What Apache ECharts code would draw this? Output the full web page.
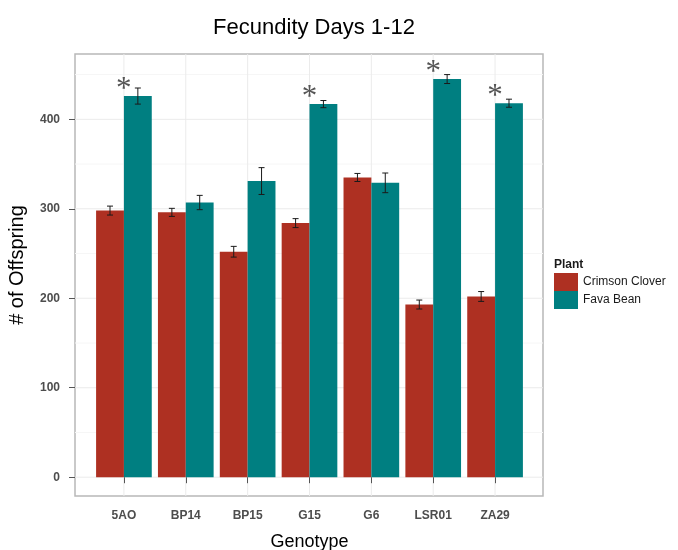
<!DOCTYPE html>
<html><head><meta charset="utf-8">
<script src="https://cdn.jsdelivr.net/npm/echarts@6/dist/echarts.min.js"></script>
<style>html,body{margin:0;padding:0;background:#fff}#c{width:678px;height:550px}</style>
</head><body><div id="c"></div>
<script>
// ---- data ----
const categories = ['5AO', 'BP14', 'BP15', 'G15', 'G6', 'LSR01', 'ZA29'];
const seriesNames = ['Crimson Clover', 'Fava Bean'];
const cloverMean = [298, 296, 252, 284, 335, 193, 202];
const cloverErr = [5, 4.5, 6, 5, 4.5, 5, 5.5];
const favaMean = [426, 307, 331, 417, 329, 445, 418];
const favaErr = [9, 8, 15, 4, 11, 5, 4.5];
const significant = [true, false, false, true, false, true, true];
const yTicks = [0, 100, 200, 300, 400];
const yMinorTicks = [50, 150, 250, 350, 450];
const yRange = [-21, 473];

// ---- style ----
const RED = '#AE3022', TEAL = '#007F81';
const BAR_FRAC = 0.45;
const FONT = 'Liberation Sans';

function hLine(color) {
  return function (params, api) {
    const cs = params.coordSys;
    const y = api.coord([0.5, api.value(1)])[1];
    return { type: 'line', silent: true,
      shape: { x1: cs.x, y1: y, x2: cs.x + cs.width, y2: y },
      style: { stroke: color, lineWidth: 1 } };
  };
}
function vLine(params, api) {
  const cs = params.coordSys;
  const x = api.coord([api.value(0), 0])[0];
  return { type: 'line', silent: true,
    shape: { x1: x, y1: cs.y, x2: x, y2: cs.y + cs.height },
    style: { stroke: '#ebebeb', lineWidth: 1 } };
}
function errRender(side) {
  return function (params, api) {
    const i = api.value(0), m = api.value(1), e = api.value(2);
    const band = api.size([1, 0])[0];
    const x = api.coord([i, m])[0] + side * band * BAR_FRAC / 2;
    const yt = api.coord([i, m + e])[1], yb = api.coord([i, m - e])[1];
    const cap = 3, st = { stroke: '#1a1a1a', lineWidth: 1 };
    return { type: 'group', children: [
      { type: 'line', shape: { x1: x, y1: yt, x2: x, y2: yb }, style: st },
      { type: 'line', shape: { x1: x - cap, y1: yt, x2: x + cap, y2: yt }, style: st },
      { type: 'line', shape: { x1: x - cap, y1: yb, x2: x + cap, y2: yb }, style: st }
    ] };
  };
}

const chart = echarts.init(document.getElementById('c'), null, { renderer: 'canvas' });
chart.setOption({
  backgroundColor: '#fff',
  animation: false,
  textStyle: { fontFamily: FONT },
  title: [
    { text: 'Fecundity Days 1-12', left: 309, top: 12, textAlign: 'center',
      textStyle: { fontFamily: FONT, fontSize: 22, fontWeight: 'normal', color: '#000' } },
    { text: 'Plant', left: 554, top: 259,
      textStyle: { fontFamily: FONT, fontSize: 12, fontWeight: 'bold', color: '#1a1a1a' }, padding: 0 }
  ],
  legend: {
    data: seriesNames, orient: 'vertical', left: 554, top: 273, padding: 0,
    itemWidth: 24, itemHeight: 18, itemGap: 0, icon: 'rect',
    textStyle: { fontFamily: FONT, fontSize: 12, color: '#1a1a1a' }
  },
  grid: [
    { left: 75, top: 54, width: 468, height: 442, outerBoundsMode: 'none', containLabel: false,
      show: true, borderColor: '#b8b8b8', borderWidth: 1.5, backgroundColor: '#fff' },
    { left: 93, top: 54, width: 433, height: 442, outerBoundsMode: 'none', containLabel: false }
  ],
  xAxis: [
    { gridIndex: 0, type: 'value', min: 0, max: 1, show: false },
    { gridIndex: 1, type: 'category', data: categories,
      axisLine: { show: false },
      axisTick: { show: true, alignWithLabel: true, length: 6, lineStyle: { color: '#555' } },
      axisLabel: { margin: 14, fontFamily: FONT, fontSize: 12, fontWeight: 'bold', color: '#4d4d4d' },
      splitLine: { show: false },
      name: 'Genotype', nameLocation: 'middle', nameGap: 37,
      nameTextStyle: { fontFamily: FONT, fontSize: 18, color: '#000' } }
  ],
  yAxis: [
    { gridIndex: 0, type: 'value', min: yRange[0], max: yRange[1],
      axisLine: { show: false },
      axisTick: { show: true, customValues: yTicks, length: 6, lineStyle: { color: '#555' } },
      axisLabel: { customValues: yTicks, margin: 15, fontFamily: FONT, fontSize: 12, fontWeight: 'bold', color: '#4d4d4d' },
      splitLine: { show: false },
      name: '# of Offspring', nameLocation: 'middle', nameGap: 48,
      nameTextStyle: { fontFamily: FONT, fontSize: 20, color: '#000', padding: [0, 0, 0, 20] } },
    { gridIndex: 1, type: 'value', min: yRange[0], max: yRange[1], show: false, splitLine: { show: false } }
  ],
  series: [
    { type: 'custom', xAxisIndex: 0, yAxisIndex: 0, renderItem: hLine('#f6f6f6'), silent: true, z: 0,
      data: yMinorTicks.map(v => [0.5, v]) },
    { type: 'custom', xAxisIndex: 0, yAxisIndex: 0, renderItem: hLine('#ebebeb'), silent: true, z: 0,
      data: yTicks.map(v => [0.5, v]) },
    { type: 'custom', xAxisIndex: 1, yAxisIndex: 1, renderItem: vLine, silent: true, z: 0,
      data: categories.map((c, i) => [i, 0]) },
    { name: seriesNames[0], type: 'bar', xAxisIndex: 1, yAxisIndex: 1, data: cloverMean,
      barWidth: (BAR_FRAC * 100) + '%', barGap: '0%', itemStyle: { color: RED }, z: 2 },
    { name: seriesNames[1], type: 'bar', xAxisIndex: 1, yAxisIndex: 1, data: favaMean,
      barWidth: (BAR_FRAC * 100) + '%', barGap: '0%', itemStyle: { color: TEAL }, z: 2,
      label: { show: true, position: 'top', distance: 0, offset: [-14, 9],
        formatter: p => significant[p.dataIndex] ? '*' : '',
        fontFamily: 'Liberation Serif', fontSize: 31, color: '#555' } },
    { type: 'custom', xAxisIndex: 1, yAxisIndex: 1, renderItem: errRender(-1), z: 3,
      data: categories.map((c, i) => [i, cloverMean[i], cloverErr[i]]) },
    { type: 'custom', xAxisIndex: 1, yAxisIndex: 1, renderItem: errRender(1), z: 3,
      data: categories.map((c, i) => [i, favaMean[i], favaErr[i]]) }
  ]
});
</script>
</body></html>
